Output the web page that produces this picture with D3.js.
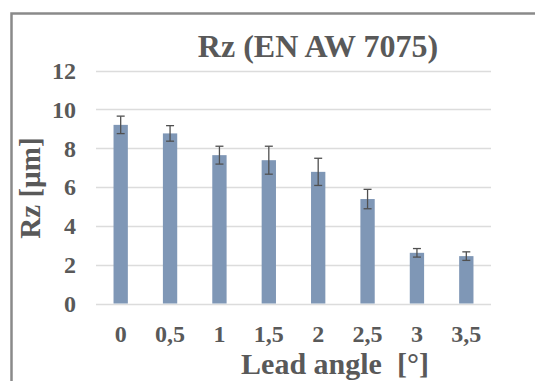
<!DOCTYPE html>
<html><head><meta charset="utf-8">
<script src="https://cdn.jsdelivr.net/npm/d3@7"></script>
<style>html,body{margin:0;padding:0;background:#fff;}svg{display:block;}text{font-family:"Liberation Serif","Times New Roman","DejaVu Serif",serif;white-space:pre;}</style>
</head><body>
<script>
const categories = ["0","0,5","1","1,5","2","2,5","3","3,5"];
const values = [9.2, 8.76, 7.64, 7.38, 6.78, 5.38, 2.61, 2.44];
const errors = [0.45, 0.4, 0.46, 0.72, 0.7, 0.5, 0.22, 0.22];
const yTicks = [0, 2, 4, 6, 8, 10, 12];
const title = "Rz (EN AW 7075)";
const xTitle = "Lead angle  [°]";
const yTitle = "Rz [µm]";

const W = 535, H = 381;
const svg = d3.select("body").append("svg").attr("width", W).attr("height", H);
const textColor = "#595959";

// frame
svg.append("path").attr("d", `M11.5,${H} L11.5,13.5 L${W},13.5`)
  .attr("fill", "none").attr("stroke", "#8a8a8a").attr("stroke-width", 2.5);

const x = d3.scaleBand().domain(categories).range([96, 491]).paddingInner(0.71).paddingOuter(0.355);
const y = d3.scaleLinear().domain([0, 12]).range([303.5, 70.5]);

// gridlines
svg.append("g").selectAll("line").data(yTicks).join("line")
  .attr("x1", 96).attr("x2", 491)
  .attr("y1", d => Math.round(y(d)) + 0.5).attr("y2", d => Math.round(y(d)) + 0.5)
  .attr("stroke", "#dcdcdc").attr("stroke-width", 1.5);

// bars
svg.append("g").selectAll("rect").data(values).join("rect")
  .attr("x", (d, i) => x(categories[i]))
  .attr("width", x.bandwidth())
  .attr("y", d => y(d))
  .attr("height", d => y(0) - y(d))
  .attr("fill", "#7f97b6");

// error bars
const eg = svg.append("g").attr("stroke", "#505050").attr("stroke-width", 1.3);
values.forEach((v, i) => {
  const cx = x(categories[i]) + x.bandwidth() / 2;
  const y1 = y(v + errors[i]), y2 = y(v - errors[i]);
  eg.append("line").attr("x1", cx).attr("x2", cx).attr("y1", y1).attr("y2", y2);
  eg.append("line").attr("x1", cx - 4).attr("x2", cx + 4).attr("y1", y1).attr("y2", y1);
  eg.append("line").attr("x1", cx - 4).attr("x2", cx + 4).attr("y1", y2).attr("y2", y2);
});

// y tick labels
svg.append("g").selectAll("text").data(yTicks).join("text")
  .attr("x", 76).attr("y", d => y(d)).attr("dy", "0.35em")
  .attr("text-anchor", "end")
  .attr("font-weight", "bold").attr("font-size", 24)
  .attr("fill", textColor).text(d => d);

// x tick labels
svg.append("g").selectAll("text").data(categories).join("text")
  .attr("x", d => x(d) + x.bandwidth() / 2).attr("y", 342)
  .attr("text-anchor", "middle")
  .attr("font-weight", "bold").attr("font-size", 24)
  .attr("fill", textColor).text(d => d);

// title
svg.append("text").attr("x", 318).attr("y", 57).attr("text-anchor", "middle")
  .attr("font-weight", "bold").attr("font-size", 32)
  .attr("fill", textColor).text(title);

// x title
svg.append("text").attr("x", 335).attr("y", 374).attr("text-anchor", "middle")
  .attr("font-weight", "bold").attr("font-size", 30)
  .attr("fill", textColor).text(xTitle);

// y title
svg.append("text").attr("transform", "translate(40,188) rotate(-90)")
  .attr("text-anchor", "middle")
  .attr("font-weight", "bold").attr("font-size", 29)
  .attr("fill", textColor).text(yTitle);
</script>
</body></html>
